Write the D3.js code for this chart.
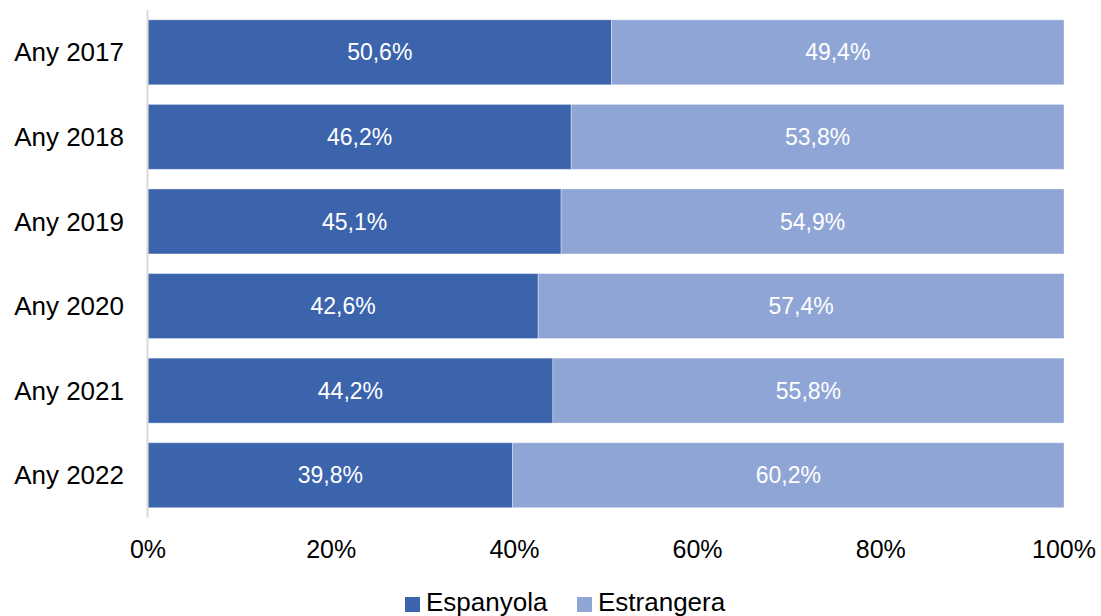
<!DOCTYPE html>
<html><head><meta charset="utf-8">
<script src="https://cdn.jsdelivr.net/npm/d3@7"></script>
<style>body{margin:0;background:#fff}svg{display:block}text{font-family:Arial,"Liberation Sans",sans-serif}</style>
</head><body>
<svg id="c" width="1101" height="616"></svg>
<script>
const categories = ["Any 2017","Any 2018","Any 2019","Any 2020","Any 2021","Any 2022"];
const espanyola = [50.6,46.2,45.1,42.6,44.2,39.8];
const estrangera = [49.4,53.8,54.9,57.4,55.8,60.2];
const seriesNames = ["Espanyola","Estrangera"];
const colors = ["#3c64ad","#8fa5d6"];
const ticks = [0,20,40,60,80,100];

const svg = d3.select("#c");
const x = d3.scaleLinear().domain([0,100]).range([148,1064]);
const y = d3.scaleBand().domain(categories).range([10,517.5]).paddingInner(0.232).paddingOuter(0.116);

const fmt = v => v.toFixed(1).replace(".", ",") + "%";

const rows = categories.map((c,i)=>({cat:c, vals:[espanyola[i], estrangera[i]]}));
rows.forEach(r=>{
  let acc = 0;
  r.vals.forEach((v,j)=>{
    const g = svg.append("g");
    g.append("rect")
      .attr("x", x(acc)).attr("y", y(r.cat))
      .attr("width", x(acc+v)-x(acc)).attr("height", y.bandwidth())
      .attr("fill", colors[j]).attr("stroke","#ffffff").attr("stroke-opacity",0.35).attr("stroke-width",1);
    g.append("text")
      .attr("x", (x(acc)+x(acc+v))/2).attr("y", y(r.cat)+y.bandwidth()/2)
      .attr("dy","0.35em").attr("text-anchor","middle")
      .attr("fill","#ffffff").attr("font-size",23).text(fmt(v));
    acc += v;
  });
});

// vertical axis line
svg.append("line").attr("x1",147.5).attr("x2",147.5).attr("y1",10).attr("y2",517.5)
  .attr("stroke","#d9d9d9").attr("stroke-width",2);

// category labels
svg.append("g").selectAll("text").data(categories).join("text")
  .attr("x",124).attr("y",d=>y(d)+y.bandwidth()/2).attr("dy","0.35em")
  .attr("text-anchor","end").attr("font-size",26).attr("fill","#000").text(d=>d);

// x ticks
svg.append("g").selectAll("text").data(ticks).join("text")
  .attr("x",d=>x(d)).attr("y",558).attr("text-anchor","middle")
  .attr("font-size",25).attr("fill","#000").text(d=>d+"%");

// legend
const leg = [{sx:405, tx:426},{sx:577, tx:598}];
seriesNames.forEach((n,i)=>{
  svg.append("rect").attr("x",leg[i].sx).attr("y",597).attr("width",15).attr("height",15).attr("fill",colors[i]);
  svg.append("text").attr("x",leg[i].tx).attr("y",611)
    .attr("font-size",26).attr("fill","#000").text(n);
});
</script>
</body></html>
